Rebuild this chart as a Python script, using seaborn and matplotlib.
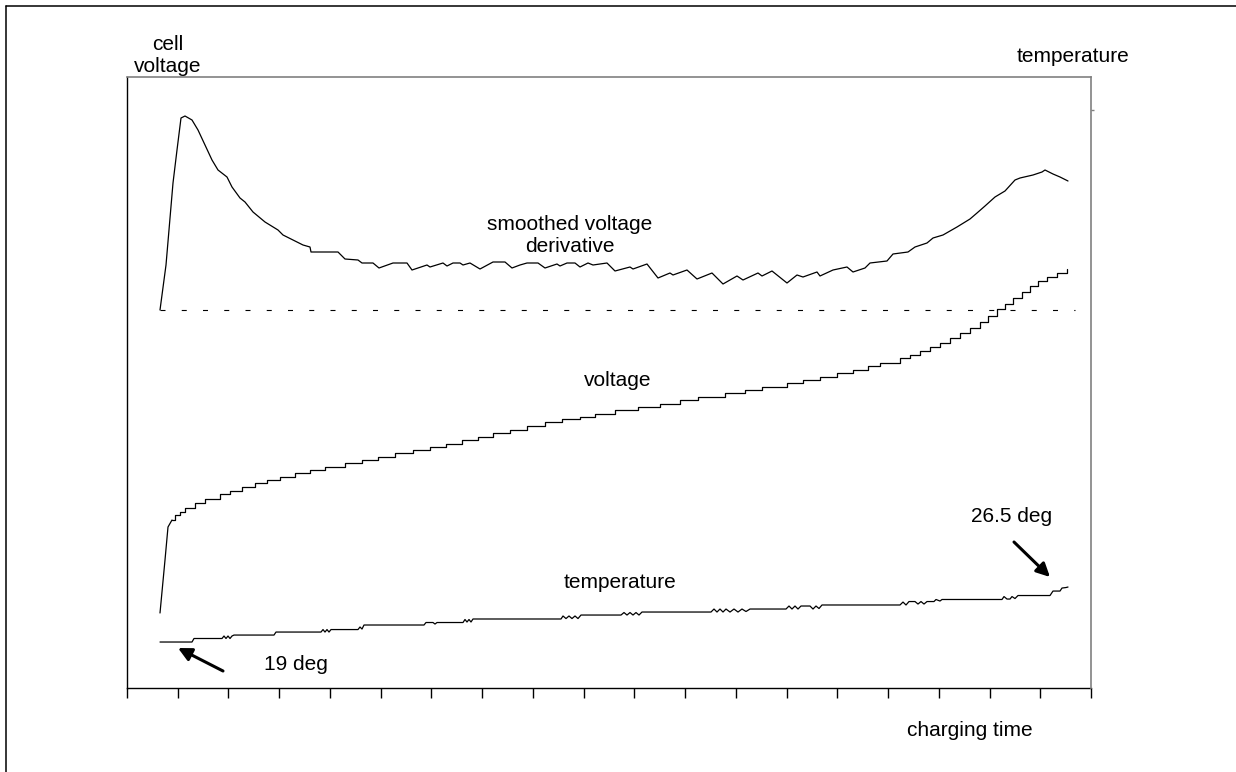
import numpy as np
import matplotlib.pyplot as plt
import matplotlib.lines as mlines
import seaborn as sns

# Traces.
# time: arbitrary units (0 = left edge of the frame), cell values: arbitrary units
deriv_time = [33, 39, 46, 50, 54, 58, 65, 71, 78, 85, 91, 100, 105, 113, 118, 126, 138, 151, 156, 166,
              176, 183, 184, 211, 218, 231, 235, 246, 252, 266, 280, 285, 300, 303, 316, 320, 326, 333,
              336, 343, 353, 366, 378, 385, 393, 400, 411, 418, 430, 433, 440, 448, 453, 461, 466, 480,
              488, 503, 506, 520, 531, 543, 546, 560, 570, 585, 596, 610, 616, 631, 635, 645, 660, 670,
              676, 690, 693, 706, 720, 726, 738, 743, 760, 766, 781, 788, 800, 806, 816, 830, 843, 850,
              858, 868, 878, 888, 893, 906, 915, 918, 926, 933, 941]
deriv_val = [378, 423, 505, 538, 570, 572, 568, 558, 543, 528, 518, 511, 501, 490, 486, 476, 466, 458, 453, 448,
             443, 441, 436, 436, 429, 428, 425, 425, 420, 425, 425, 418, 423, 421, 425, 422, 425, 425,
             423, 425, 419, 426, 426, 420, 423, 425, 425, 420, 424, 422, 425, 425, 421, 425, 423, 425,
             417, 421, 419, 424, 410, 415, 413, 418, 409, 415, 404, 412, 408, 415, 412, 417, 405, 413,
             411, 416, 412, 418, 421, 416, 420, 425, 427, 434, 436, 441, 445, 450, 453, 461, 469, 475,
             482, 491, 497, 508, 510, 513, 516, 518, 514, 511, 507]

# initial steep rise of the voltage, then the stepped part
volt_rise_time = [33, 38, 41, 45]
volt_rise_val = [75, 128, 161, 168]
volt_time = [45, 48, 53, 58, 68, 78, 93, 103, 115, 128, 140, 153, 168, 183, 198, 218, 235,
             251, 268, 286, 303, 319, 335, 351, 366, 383, 400, 418, 435, 453, 468, 488, 511, 533, 553,
             571, 598, 618, 635, 660, 676, 693, 710, 726, 741, 753, 773, 783, 793, 803, 813, 823, 833,
             843, 853, 861, 870, 878, 886, 895, 903, 911, 920, 930, 940]
volt_val = [168, 173, 176, 180, 185, 189, 194, 197, 201, 205, 208, 211, 215, 218, 221, 225, 228,
            231, 235, 238, 241, 244, 248, 251, 255, 258, 262, 266, 269, 271, 274, 278, 281, 284, 288,
            291, 295, 298, 301, 305, 308, 311, 315, 318, 322, 325, 330, 333, 337, 341, 345, 350, 355,
            360, 366, 372, 379, 384, 390, 396, 402, 407, 411, 415, 419]

temp_time = [33, 65, 67, 95, 97, 99, 101, 103, 105, 107, 147, 149, 194, 196, 198, 200, 202, 204, 231, 233,
             235, 237, 297, 299, 306, 308, 310, 336, 338, 340, 342, 344, 346, 434, 436, 439, 442, 445,
             448, 451, 454, 494, 497, 500, 503, 506, 509, 512, 515, 584, 587, 590, 593, 596, 599, 603,
             607, 611, 615, 619, 623, 659, 662, 665, 668, 671, 674, 683, 686, 689, 692, 695, 773, 776,
             779, 782, 788, 791, 794, 797, 800, 807, 809, 813, 815, 875, 877, 880, 883, 885, 888, 891,
             923, 926, 933, 935, 939, 941]
temp_deg = [19.0, 19.0, 19.48, 19.48, 19.82, 19.48, 19.82, 19.48, 19.82, 19.95, 19.95, 20.36, 20.36, 20.70,
            20.36, 20.70, 20.36, 20.70, 20.70, 21.05, 20.77, 21.32, 21.32, 21.66, 21.66, 21.45, 21.66,
            21.66, 22.07, 21.73, 22.07, 21.73, 22.14, 22.14, 22.55, 22.20, 22.55, 22.20, 22.55, 22.20,
            22.68, 22.68, 23.02, 22.68, 23.02, 22.68, 23.02, 22.68, 23.09, 23.09, 23.50, 23.09, 23.50,
            23.09, 23.50, 23.09, 23.50, 23.09, 23.50, 23.16, 23.50, 23.50, 23.91, 23.50, 23.91, 23.50,
            23.91, 23.91, 23.50, 23.91, 23.57, 24.05, 24.05, 24.45, 24.05, 24.52, 24.52, 24.18, 24.52,
            24.18, 24.52, 24.52, 24.80, 24.59, 24.80, 24.80, 25.20, 24.86, 24.86, 25.20, 24.93, 25.34,
            25.34, 25.95, 25.95, 26.36, 26.43, 26.50]

zero_level = 378
zero_span = [33, 948]
time_ticks = np.linspace(0, 964, 20)

sns.set_theme(style="white")
plt.rcParams['font.family'] = ['Liberation Sans', 'DejaVu Sans']
plt.rcParams['lines.scale_dashes'] = False

fig = plt.figure(figsize=(12.36, 7.72), dpi=100)
ax = fig.add_axes([127 / 1236, 84 / 772, 964 / 1236, 611 / 772])
ax2 = ax.twinx()

# curves
sns.lineplot(x=deriv_time, y=deriv_val, ax=ax, color='black', lw=0.9, sort=False, estimator=None)
sns.lineplot(x=volt_rise_time, y=volt_rise_val, ax=ax, color='black', lw=0.9, sort=False,
             estimator=None)
sns.lineplot(x=volt_time, y=volt_val, ax=ax, color='black', lw=0.9, sort=False, estimator=None,
             drawstyle='steps-post')
ax.plot(zero_span, [zero_level, zero_level], color='black', lw=0.8, ls=(0, (3.6, 11.7)))
sns.lineplot(x=temp_time, y=temp_deg, ax=ax2, color='black', lw=0.9, sort=False, estimator=None)

ax.set_xlim(0, 964)
ax.set_ylim(0, 611)
ax2.set_ylim(12.73, 96.05)
ax.set_xlabel('')
ax.set_ylabel('')
ax2.set_ylabel('')

ax.set_xticks(time_ticks)
ax.set_yticks([])
ax.tick_params(axis='x', bottom=True, direction='out', length=7.5, width=1, color='black',
               labelbottom=False)
ax2.set_yticks([91.5])
ax2.tick_params(axis='y', right=True, direction='out', length=2.5, width=1, color='#808080',
                labelright=False)

for side in ['left', 'bottom']:
    ax.spines[side].set_color('black')
    ax.spines[side].set_linewidth(1.0)
ax.spines['top'].set_color('#808080')
ax.spines['top'].set_linewidth(1.2)
ax.spines['right'].set_visible(False)
for side in ['left', 'bottom', 'top']:
    ax2.spines[side].set_visible(False)
ax2.spines['right'].set_color('#808080')
ax2.spines['right'].set_linewidth(1.2)

# labels
fs = 15
ax.text(41, 632.5, 'cell\nvoltage', ha='center', va='center', fontsize=fs, color='black')
ax.text(946, 631, 'temperature', ha='center', va='center', fontsize=fs, color='black')
ax.text(443, 452, 'smoothed voltage\nderivative', ha='center', va='center', fontsize=fs,
        color='black')
ax.text(491, 307.5, 'voltage', ha='center', va='center', fontsize=fs, color='black')
ax.text(493, 106, 'temperature', ha='center', va='center', fontsize=fs, color='black')
ax.text(885, 171, '26.5 deg', ha='center', va='center', fontsize=fs, color='black')
ax.text(169, 24, '19 deg', ha='center', va='center', fontsize=fs, color='black')
ax.text(843, -43, 'charging time', ha='center', va='center', fontsize=fs, color='black')

arrow = dict(arrowstyle='-|>', color='black', lw=2.2, mutation_scale=20, shrinkA=0, shrinkB=0)
ax.annotate('', xy=(51, 40), xytext=(96, 17), arrowprops=arrow)
ax.annotate('', xy=(923, 111), xytext=(887, 146), arrowprops=arrow)

# page frame lines (top and left)
fig.add_artist(mlines.Line2D([6 / 1236, 1], [1 - 6 / 772, 1 - 6 / 772], color='black', lw=1.1,
                             transform=fig.transFigure))
fig.add_artist(mlines.Line2D([6 / 1236, 6 / 1236], [0, 1 - 6 / 772], color='black', lw=1.1,
                             transform=fig.transFigure))

fig.savefig('out.png', dpi=100)
